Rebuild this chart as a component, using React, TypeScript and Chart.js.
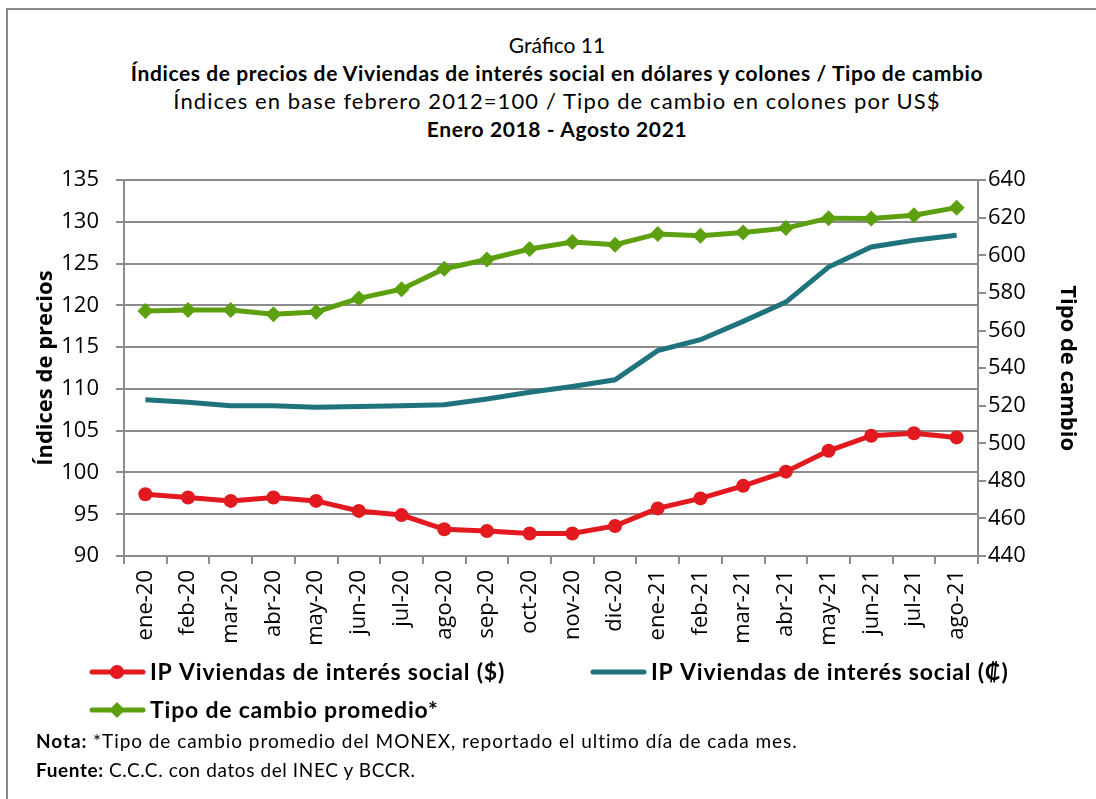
import React, { useEffect, useRef } from 'react';
import { Chart, registerables } from 'chart.js';

Chart.register(...registerables);

const categories = [
  'ene-20', 'feb-20', 'mar-20', 'abr-20', 'may-20', 'jun-20', 'jul-20', 'ago-20', 'sep-20', 'oct-20',
  'nov-20', 'dic-20', 'ene-21', 'feb-21', 'mar-21', 'abr-21', 'may-21', 'jun-21', 'jul-21', 'ago-21',
];
const ipDolares = [97.4, 97.0, 96.6, 97.0, 96.6, 95.4, 94.9, 93.2, 93.0, 92.7, 92.7, 93.6, 95.7, 96.9, 98.4, 100.1, 102.6, 104.4, 104.7, 104.2];
const ipColones = [108.7, 108.4, 108.0, 108.0, 107.8, 107.9, 108.0, 108.1, 108.8, 109.6, 110.3, 111.1, 114.6, 115.9, 118.1, 120.4, 124.6, 127.0, 127.8, 128.4];
const tipoCambio = [570.4, 570.9, 570.9, 568.6, 569.9, 577.1, 582.0, 592.9, 597.8, 603.4, 607.1, 605.7, 611.4, 610.5, 612.2, 614.5, 619.8, 619.6, 621.4, 625.4];

const seriesLabels = [
  'IP Viviendas de interés social ($)',
  'IP Viviendas de interés social (₡)',
  'Tipo de cambio promedio*',
];
const titleLines = [
  'Gráfico 11',
  'Índices de precios de Viviendas de interés social en dólares y colones / Tipo de cambio',
  'Índices en base febrero 2012=100 / Tipo de cambio en colones por US$',
  'Enero 2018 - Agosto 2021',
];
const leftAxisTitle = 'Índices de precios';
const rightAxisTitle = 'Tipo de cambio';

const RED = '#e2191f';
const TEAL = '#1f737d';
const GREEN = '#5c9f0f';
const GRID = '#8c8c8c';

const legendPlugin = {
  id: 'customLegend',
  afterDraw(chart: any) {
    const { ctx, chartArea } = chart;
    const items = [
      { ds: 0, x: chartArea.left - 34, y: chartArea.bottom + 116 },
      { ds: 1, x: chartArea.left + 467, y: chartArea.bottom + 116 },
      { ds: 2, x: chartArea.left - 34, y: chartArea.bottom + 154 },
    ];
    ctx.save();
    items.forEach((it) => {
      const ds = chart.data.datasets[it.ds];
      ctx.strokeStyle = ds.borderColor;
      ctx.lineWidth = 5;
      ctx.lineCap = 'round';
      ctx.beginPath();
      ctx.moveTo(it.x + 2, it.y);
      ctx.lineTo(it.x + 53, it.y);
      ctx.stroke();
      const cx = it.x + 27;
      ctx.fillStyle = ds.pointBackgroundColor || ds.borderColor;
      if (ds.pointRadius > 0 && ds.pointStyle === 'circle') {
        ctx.beginPath();
        ctx.arc(cx, it.y, 7, 0, Math.PI * 2);
        ctx.fill();
      } else if (ds.pointRadius > 0 && ds.pointStyle === 'rectRot') {
        const r = 8;
        ctx.beginPath();
        ctx.moveTo(cx, it.y - r);
        ctx.lineTo(cx + r, it.y);
        ctx.lineTo(cx, it.y + r);
        ctx.lineTo(cx - r, it.y);
        ctx.closePath();
        ctx.fill();
      }
      ctx.fillStyle = '#000';
      ctx.font = 'bold 23px Lato, "Open Sans", sans-serif';
      try {
        (ctx as any).letterSpacing = '0.8px';
      } catch (e) {
        /* ignore */
      }
      ctx.textBaseline = 'middle';
      ctx.textAlign = 'left';
      ctx.fillText(ds.label, it.x + 60, it.y + 1);
      try {
        (ctx as any).letterSpacing = '0px';
      } catch (e) {
        /* ignore */
      }
    });
    ctx.restore();
  },
};

function ChartCanvas() {
  const ref = useRef<HTMLCanvasElement | null>(null);
  useEffect(() => {
    if (!ref.current) return;
    const chart = new Chart(ref.current, {
      type: 'line',
      data: {
        labels: categories,
        datasets: [
          {
            label: seriesLabels[0],
            data: ipDolares,
            yAxisID: 'y',
            borderColor: RED,
            backgroundColor: RED,
            pointBackgroundColor: RED,
            pointBorderColor: RED,
            borderWidth: 5,
            pointStyle: 'circle',
            pointRadius: 7,
            pointBorderWidth: 0,
            tension: 0,
          },
          {
            label: seriesLabels[1],
            data: ipColones,
            yAxisID: 'y',
            borderColor: TEAL,
            backgroundColor: TEAL,
            borderWidth: 5,
            pointRadius: 0,
            pointStyle: 'circle',
            tension: 0,
          },
          {
            label: seriesLabels[2],
            data: tipoCambio,
            yAxisID: 'y1',
            borderColor: GREEN,
            backgroundColor: GREEN,
            pointBackgroundColor: GREEN,
            pointBorderColor: GREEN,
            borderWidth: 5,
            pointStyle: 'rectRot',
            pointRadius: 8,
            pointBorderWidth: 0,
            tension: 0,
          },
        ] as any,
      },
      options: {
        responsive: false,
        animation: false,
        layout: { padding: { top: 25, left: 0, right: 0, bottom: 0 } },
        plugins: {
          legend: { display: false },
          title: { display: false },
          tooltip: { enabled: false },
        },
        scales: {
          x: {
            offset: true,
            grid: {
              offset: true,
              drawOnChartArea: false,
              drawTicks: true,
              tickLength: 8,
              color: GRID,
              lineWidth: 2,
            },
            border: { color: GRID, width: 2 },
            ticks: {
              autoSkip: false,
              minRotation: 90,
              maxRotation: 90,
              padding: 6,
              color: '#000',
              font: { family: '"Open Sans", sans-serif', size: 22 },
            },
            afterFit: (scale: any) => {
              scale.height = 184;
            },
          },
          y: {
            position: 'left',
            min: 90,
            max: 135,
            ticks: {
              stepSize: 5,
              padding: 17,
              color: '#000',
              font: { family: '"Open Sans", sans-serif', size: 22 },
            },
            grid: { color: GRID, lineWidth: 2, tickLength: 8 },
            border: { color: GRID, width: 2 },
            title: {
              display: true,
              text: leftAxisTitle,
              color: '#000',
              font: { family: '"Open Sans", sans-serif', size: 22, weight: 'bold' },
              padding: { top: 25, bottom: 0 },
            },
            afterFit: (scale: any) => {
              scale.width = 116;
            },
          },
          y1: {
            position: 'right',
            min: 440,
            max: 640,
            ticks: {
              stepSize: 20,
              padding: 2,
              color: '#000',
              font: { family: '"Open Sans", sans-serif', size: 22 },
            },
            grid: { drawOnChartArea: false, color: GRID, lineWidth: 2, tickLength: 8 },
            border: { color: GRID, width: 2 },
            title: {
              display: true,
              text: rightAxisTitle,
              color: '#000',
              font: { family: '"Open Sans", sans-serif', size: 22, weight: 'bold' },
              padding: { top: 16, bottom: 0 },
            },
            afterFit: (scale: any) => {
              scale.width = 118;
            },
          },
        },
      } as any,
      plugins: [legendPlugin],
    });
    return () => chart.destroy();
  }, []);
  return (
    <canvas
      ref={ref}
      width={1088}
      height={590}
      style={{ position: 'absolute', left: 8, top: 150, width: 1088, height: 590 }}
    />
  );
}

export default function App() {
  const titleFont = 'Lato, "Open Sans", sans-serif';
  return (
    <div
      style={{
        position: 'fixed',
        left: 0,
        top: 0,
        width: 1096,
        height: 799,
        overflow: 'hidden',
        background: '#fff',
        fontFamily: titleFont,
        color: '#000',
      }}
    >
      <div
        style={{
          position: 'absolute',
          left: 6,
          top: 8,
          width: 1100,
          height: 800,
          borderTop: '2px solid #898989',
          borderLeft: '2px solid #898989',
        }}
      />
      <div style={{ position: 'absolute', left: 22, top: 31, width: 1070, textAlign: 'center', lineHeight: '28px', whiteSpace: 'nowrap' }}>
        <div style={{ fontSize: 21 }}>{titleLines[0]}</div>
        <div style={{ fontSize: 21, fontWeight: 'bold', letterSpacing: '0.6px' }}>{titleLines[1]}</div>
        <div style={{ fontSize: 22, letterSpacing: '1.1px' }}>{titleLines[2]}</div>
        <div style={{ fontSize: 21, fontWeight: 'bold', letterSpacing: '0.6px' }}>{titleLines[3]}</div>
      </div>
      <ChartCanvas />
      <div style={{ position: 'absolute', left: 36, top: 726, fontSize: 19, lineHeight: '29px', whiteSpace: 'nowrap' }}>
        <div style={{ letterSpacing: '0.95px' }}>
          <b>Nota: </b>*Tipo de cambio promedio del MONEX, reportado el ultimo día de cada mes.
        </div>
        <div style={{ letterSpacing: '0.6px' }}>
          <b>Fuente: </b>C.C.C. con datos del INEC y BCCR.
        </div>
      </div>
    </div>
  );
}
